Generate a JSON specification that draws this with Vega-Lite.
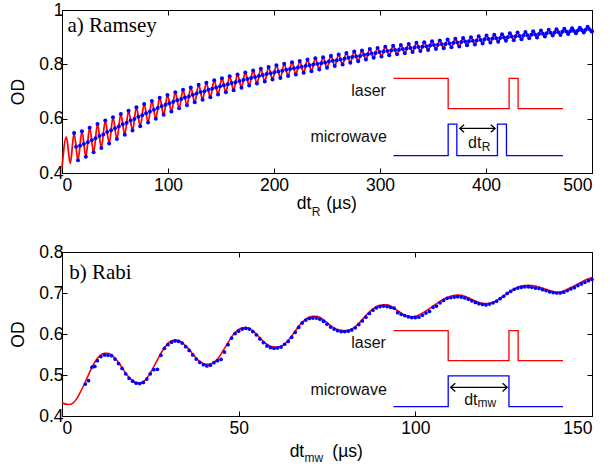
{
"$schema": "https://vega.github.io/schema/vega-lite/v6.json",
"autosize": {"type": "pad"},
"padding": {"left": 9, "top": 0, "right": 0, "bottom": 0},
"background": "white",
"spacing": 79,
"bounds": "flush",
"config": {
  "view": {"stroke": "black", "strokeWidth": 1},
  "axis": {"grid": false, "domainColor": "black", "domainWidth": 1, "tickColor": "black", "tickWidth": 1, "tickSize": -5, "labelFont": "Liberation Sans", "labelFontSize": 17.5, "labelColor": "black", "labelPadding": 4, "titleFont": "Liberation Sans", "titleFontSize": 17.5, "titleFontWeight": "normal", "titleColor": "black", "titlePadding": 11},
  "text": {"font": "Liberation Sans", "color": "#111"}
},
"datasets": {
"ram_ext": [{"t":0,"v":0.42},{"t":4.1,"v":0.533},{"t":7.8,"v":0.435},{"t":11.4,"v":0.547},{"t":15.1,"v":0.447},{"t":18.8,"v":0.554},{"t":22.5,"v":0.46},{"t":26.1,"v":0.567},{"t":29.8,"v":0.476},{"t":33.5,"v":0.58},{"t":37.1,"v":0.492},{"t":40.8,"v":0.593},{"t":44.5,"v":0.509},{"t":48.1,"v":0.605},{"t":51.8,"v":0.525},{"t":55.5,"v":0.617},{"t":59.2,"v":0.541},{"t":62.8,"v":0.629},{"t":66.5,"v":0.556},{"t":70.2,"v":0.642},{"t":73.8,"v":0.572},{"t":77.5,"v":0.654},{"t":81.2,"v":0.586},{"t":84.8,"v":0.665},{"t":88.5,"v":0.6},{"t":92.2,"v":0.677},{"t":95.9,"v":0.614},{"t":99.5,"v":0.687},{"t":103.2,"v":0.626},{"t":106.9,"v":0.697},{"t":110.5,"v":0.638},{"t":114.2,"v":0.706},{"t":117.9,"v":0.649},{"t":121.5,"v":0.715},{"t":125.2,"v":0.66},{"t":128.9,"v":0.725},{"t":132.6,"v":0.67},{"t":136.2,"v":0.732},{"t":139.9,"v":0.679},{"t":143.6,"v":0.741},{"t":147.2,"v":0.689},{"t":150.9,"v":0.749},{"t":154.6,"v":0.697},{"t":158.2,"v":0.756},{"t":161.9,"v":0.705},{"t":165.6,"v":0.763},{"t":169.3,"v":0.714},{"t":172.9,"v":0.77},{"t":176.6,"v":0.722},{"t":180.3,"v":0.777},{"t":183.9,"v":0.729},{"t":187.6,"v":0.784},{"t":191.3,"v":0.737},{"t":194.9,"v":0.79},{"t":198.6,"v":0.744},{"t":202.3,"v":0.797},{"t":206,"v":0.75},{"t":209.6,"v":0.802},{"t":213.3,"v":0.757},{"t":217,"v":0.808},{"t":220.6,"v":0.763},{"t":224.3,"v":0.812},{"t":228,"v":0.769},{"t":231.6,"v":0.818},{"t":235.3,"v":0.775},{"t":239,"v":0.822},{"t":242.7,"v":0.781},{"t":246.3,"v":0.826},{"t":250,"v":0.787},{"t":253.7,"v":0.832},{"t":257.3,"v":0.794},{"t":261,"v":0.836},{"t":264.7,"v":0.799},{"t":268.3,"v":0.842},{"t":272,"v":0.806},{"t":275.7,"v":0.847},{"t":279.4,"v":0.811},{"t":283,"v":0.851},{"t":286.7,"v":0.818},{"t":290.4,"v":0.856},{"t":294,"v":0.824},{"t":297.7,"v":0.86},{"t":301.4,"v":0.829},{"t":305,"v":0.865},{"t":308.7,"v":0.833},{"t":312.4,"v":0.868},{"t":316.1,"v":0.837},{"t":319.7,"v":0.871},{"t":323.4,"v":0.841},{"t":327.1,"v":0.875},{"t":330.7,"v":0.845},{"t":334.4,"v":0.879},{"t":338.1,"v":0.849},{"t":341.7,"v":0.881},{"t":345.4,"v":0.853},{"t":349.1,"v":0.885},{"t":352.8,"v":0.856},{"t":356.4,"v":0.888},{"t":360.1,"v":0.859},{"t":363.8,"v":0.891},{"t":367.4,"v":0.863},{"t":371.1,"v":0.894},{"t":374.8,"v":0.866},{"t":378.4,"v":0.897},{"t":382.1,"v":0.87},{"t":385.8,"v":0.9},{"t":389.5,"v":0.873},{"t":393.1,"v":0.903},{"t":396.8,"v":0.877},{"t":400.5,"v":0.906},{"t":404.1,"v":0.88},{"t":407.8,"v":0.909},{"t":411.5,"v":0.883},{"t":415.1,"v":0.911},{"t":418.8,"v":0.887},{"t":422.5,"v":0.914},{"t":426.2,"v":0.889},{"t":429.8,"v":0.917},{"t":433.5,"v":0.892},{"t":437.2,"v":0.919},{"t":440.8,"v":0.896},{"t":444.5,"v":0.922},{"t":448.2,"v":0.899},{"t":451.8,"v":0.925},{"t":455.5,"v":0.902},{"t":459.2,"v":0.927},{"t":462.9,"v":0.906},{"t":466.5,"v":0.929},{"t":470.2,"v":0.908},{"t":473.9,"v":0.931},{"t":477.5,"v":0.912},{"t":481.2,"v":0.933},{"t":484.9,"v":0.914},{"t":488.5,"v":0.935},{"t":492.2,"v":0.917},{"t":495.9,"v":0.938},{"t":499.6,"v":0.921},{"t":500,"v":0.922}],
"ram_mid": [{"t":13.3,"v":0.497},{"t":17,"v":0.5},{"t":20.6,"v":0.507},{"t":24.3,"v":0.513},{"t":28,"v":0.521},{"t":31.6,"v":0.528},{"t":35.3,"v":0.536},{"t":39,"v":0.542},{"t":42.6,"v":0.551},{"t":46.3,"v":0.557},{"t":50,"v":0.565},{"t":53.6,"v":0.571},{"t":57.3,"v":0.579},{"t":61,"v":0.585},{"t":64.7,"v":0.593},{"t":68.3,"v":0.599},{"t":72,"v":0.607},{"t":75.7,"v":0.613},{"t":79.3,"v":0.62},{"t":83,"v":0.626},{"t":86.7,"v":0.633},{"t":90.3,"v":0.639},{"t":94,"v":0.646},{"t":97.7,"v":0.651},{"t":101.3,"v":0.657},{"t":105,"v":0.662},{"t":108.7,"v":0.668},{"t":112.4,"v":0.672},{"t":116,"v":0.678},{"t":119.7,"v":0.682},{"t":123.4,"v":0.688},{"t":127,"v":0.693},{"t":130.7,"v":0.698},{"t":134.4,"v":0.701},{"t":138.1,"v":0.706},{"t":141.7,"v":0.71},{"t":145.4,"v":0.715},{"t":149.1,"v":0.719},{"t":152.7,"v":0.723},{"t":156.4,"v":0.727},{"t":160.1,"v":0.731},{"t":163.7,"v":0.734},{"t":167.4,"v":0.739},{"t":171.1,"v":0.742},{"t":174.8,"v":0.746},{"t":178.4,"v":0.75},{"t":182.1,"v":0.753},{"t":185.8,"v":0.757},{"t":189.4,"v":0.761},{"t":193.1,"v":0.764},{"t":196.8,"v":0.767},{"t":200.4,"v":0.771},{"t":204.1,"v":0.774},{"t":207.8,"v":0.776},{"t":211.5,"v":0.78},{"t":215.1,"v":0.783},{"t":218.8,"v":0.786},{"t":222.5,"v":0.788},{"t":226.1,"v":0.791},{"t":229.8,"v":0.794},{"t":233.5,"v":0.797},{"t":237.1,"v":0.799},{"t":240.8,"v":0.802},{"t":244.5,"v":0.804},{"t":248.2,"v":0.807},{"t":251.8,"v":0.81},{"t":255.5,"v":0.813},{"t":259.2,"v":0.815},{"t":262.8,"v":0.818},{"t":266.5,"v":0.821},{"t":270.2,"v":0.824},{"t":273.8,"v":0.827},{"t":277.5,"v":0.829},{"t":281.2,"v":0.831},{"t":284.9,"v":0.835},{"t":288.5,"v":0.837},{"t":292.2,"v":0.84},{"t":295.9,"v":0.842},{"t":299.5,"v":0.845},{"t":303.2,"v":0.847},{"t":306.9,"v":0.849},{"t":310.5,"v":0.851},{"t":314.2,"v":0.853},{"t":317.9,"v":0.854},{"t":321.6,"v":0.856},{"t":325.2,"v":0.858},{"t":328.9,"v":0.86},{"t":332.6,"v":0.862},{"t":336.2,"v":0.864},{"t":339.9,"v":0.865},{"t":343.6,"v":0.867},{"t":347.2,"v":0.869},{"t":350.9,"v":0.871},{"t":354.6,"v":0.872},{"t":358.3,"v":0.874},{"t":361.9,"v":0.875},{"t":365.6,"v":0.877},{"t":369.3,"v":0.879},{"t":372.9,"v":0.88},{"t":376.6,"v":0.882},{"t":380.3,"v":0.884},{"t":383.9,"v":0.885},{"t":387.6,"v":0.887},{"t":391.3,"v":0.888},{"t":395,"v":0.89},{"t":398.6,"v":0.892},{"t":402.3,"v":0.893},{"t":406,"v":0.895},{"t":409.6,"v":0.896},{"t":413.3,"v":0.897},{"t":417,"v":0.899},{"t":420.6,"v":0.9},{"t":424.3,"v":0.902},{"t":428,"v":0.903},{"t":431.7,"v":0.904},{"t":435.3,"v":0.906},{"t":439,"v":0.907},{"t":442.7,"v":0.909},{"t":446.3,"v":0.91},{"t":450,"v":0.912},{"t":453.7,"v":0.913},{"t":457.3,"v":0.914},{"t":461,"v":0.916},{"t":464.7,"v":0.917},{"t":468.3,"v":0.918},{"t":472,"v":0.92},{"t":475.7,"v":0.921},{"t":479.4,"v":0.922},{"t":483,"v":0.923},{"t":486.7,"v":0.925},{"t":490.4,"v":0.926},{"t":494,"v":0.927},{"t":497.7,"v":0.929}],
"rabi_red": [{"t":0,"v":0.433},{"t":1,"v":0.429},{"t":2,"v":0.428},{"t":3,"v":0.431},{"t":4,"v":0.44},{"t":5,"v":0.455},{"t":6,"v":0.472},{"t":7,"v":0.491},{"t":8,"v":0.51},{"t":9,"v":0.527},{"t":10,"v":0.54},{"t":11,"v":0.549},{"t":12,"v":0.553},{"t":13,"v":0.553},{"t":14,"v":0.549},{"t":15,"v":0.541},{"t":16,"v":0.531},{"t":17,"v":0.518},{"t":18,"v":0.505},{"t":19,"v":0.494},{"t":20,"v":0.486},{"t":21,"v":0.481},{"t":22,"v":0.48},{"t":23,"v":0.483},{"t":24,"v":0.492},{"t":25,"v":0.505},{"t":26,"v":0.521},{"t":27,"v":0.537},{"t":28,"v":0.553},{"t":29,"v":0.567},{"t":30,"v":0.577},{"t":31,"v":0.583},{"t":32,"v":0.585},{"t":33,"v":0.584},{"t":34,"v":0.579},{"t":35,"v":0.571},{"t":36,"v":0.562},{"t":37,"v":0.551},{"t":38,"v":0.541},{"t":39,"v":0.533},{"t":40,"v":0.528},{"t":41,"v":0.526},{"t":42,"v":0.527},{"t":43,"v":0.531},{"t":44,"v":0.539},{"t":45,"v":0.551},{"t":46,"v":0.565},{"t":47,"v":0.579},{"t":48,"v":0.593},{"t":49,"v":0.604},{"t":50,"v":0.611},{"t":51,"v":0.615},{"t":52,"v":0.616},{"t":53,"v":0.614},{"t":54,"v":0.608},{"t":55,"v":0.6},{"t":56,"v":0.591},{"t":57,"v":0.582},{"t":58,"v":0.575},{"t":59,"v":0.57},{"t":60,"v":0.568},{"t":61,"v":0.568},{"t":62,"v":0.57},{"t":63,"v":0.575},{"t":64,"v":0.584},{"t":65,"v":0.595},{"t":66,"v":0.607},{"t":67,"v":0.619},{"t":68,"v":0.629},{"t":69,"v":0.636},{"t":70,"v":0.641},{"t":71,"v":0.643},{"t":72,"v":0.643},{"t":73,"v":0.64},{"t":74,"v":0.635},{"t":75,"v":0.628},{"t":76,"v":0.621},{"t":77,"v":0.615},{"t":78,"v":0.611},{"t":79,"v":0.609},{"t":80,"v":0.608},{"t":81,"v":0.609},{"t":82,"v":0.612},{"t":83,"v":0.618},{"t":84,"v":0.626},{"t":85,"v":0.635},{"t":86,"v":0.645},{"t":87,"v":0.654},{"t":88,"v":0.661},{"t":89,"v":0.667},{"t":90,"v":0.67},{"t":91,"v":0.671},{"t":92,"v":0.671},{"t":93,"v":0.668},{"t":94,"v":0.663},{"t":95,"v":0.657},{"t":96,"v":0.651},{"t":97,"v":0.646},{"t":98,"v":0.643},{"t":99,"v":0.642},{"t":100,"v":0.643},{"t":102,"v":0.651},{"t":104,"v":0.662},{"t":106,"v":0.674},{"t":108,"v":0.685},{"t":110,"v":0.692},{"t":112,"v":0.695},{"t":114,"v":0.692},{"t":116,"v":0.684},{"t":118,"v":0.677},{"t":120,"v":0.674},{"t":122,"v":0.677},{"t":124,"v":0.687},{"t":126,"v":0.699},{"t":128,"v":0.71},{"t":130,"v":0.717},{"t":132,"v":0.719},{"t":134,"v":0.717},{"t":136,"v":0.712},{"t":138,"v":0.706},{"t":140,"v":0.702},{"t":142,"v":0.705},{"t":144,"v":0.713},{"t":146,"v":0.722},{"t":148,"v":0.731},{"t":150,"v":0.738}],
"rabi_blue": [{"t":6.6,"v":0.478},{"t":7.5,"v":0.486},{"t":8.5,"v":0.519},{"t":9.3,"v":0.521},{"t":10,"v":0.535},{"t":11,"v":0.545},{"t":12,"v":0.549},{"t":13,"v":0.548},{"t":14,"v":0.547},{"t":15,"v":0.539},{"t":16,"v":0.528},{"t":17,"v":0.516},{"t":18,"v":0.503},{"t":19,"v":0.492},{"t":20,"v":0.485},{"t":21,"v":0.48},{"t":22,"v":0.479},{"t":23,"v":0.482},{"t":24,"v":0.49},{"t":25,"v":0.503},{"t":26,"v":0.513},{"t":27,"v":0.514},{"t":28,"v":0.548},{"t":29,"v":0.565},{"t":30,"v":0.574},{"t":31,"v":0.58},{"t":32,"v":0.583},{"t":33,"v":0.582},{"t":34,"v":0.578},{"t":35,"v":0.569},{"t":36,"v":0.56},{"t":37,"v":0.549},{"t":38,"v":0.539},{"t":39,"v":0.531},{"t":40,"v":0.525},{"t":41,"v":0.522},{"t":42,"v":0.524},{"t":43,"v":0.53},{"t":44,"v":0.535},{"t":45,"v":0.538},{"t":46,"v":0.556},{"t":47,"v":0.574},{"t":48,"v":0.59},{"t":49,"v":0.601},{"t":50,"v":0.607},{"t":51,"v":0.612},{"t":52,"v":0.614},{"t":53,"v":0.612},{"t":54,"v":0.606},{"t":55,"v":0.598},{"t":56,"v":0.588},{"t":57,"v":0.579},{"t":58,"v":0.571},{"t":59,"v":0.567},{"t":60,"v":0.565},{"t":61,"v":0.566},{"t":62,"v":0.568},{"t":63,"v":0.575},{"t":64,"v":0.582},{"t":65,"v":0.592},{"t":66,"v":0.604},{"t":67,"v":0.616},{"t":68,"v":0.627},{"t":69,"v":0.634},{"t":70,"v":0.638},{"t":71,"v":0.639},{"t":72,"v":0.639},{"t":73,"v":0.636},{"t":74,"v":0.631},{"t":75,"v":0.624},{"t":76,"v":0.617},{"t":77,"v":0.612},{"t":78,"v":0.608},{"t":79,"v":0.606},{"t":80,"v":0.606},{"t":81,"v":0.607},{"t":82,"v":0.61},{"t":83,"v":0.615},{"t":84,"v":0.623},{"t":85,"v":0.632},{"t":86,"v":0.641},{"t":87,"v":0.65},{"t":88,"v":0.658},{"t":89,"v":0.664},{"t":90,"v":0.667},{"t":91,"v":0.668},{"t":92,"v":0.667},{"t":93,"v":0.665},{"t":94,"v":0.663},{"t":95,"v":0.652},{"t":96,"v":0.648},{"t":97,"v":0.645},{"t":98,"v":0.642},{"t":99,"v":0.64},{"t":100,"v":0.64},{"t":101,"v":0.641},{"t":102,"v":0.646},{"t":103,"v":0.651},{"t":104,"v":0.655},{"t":105,"v":0.665},{"t":106,"v":0.668},{"t":107,"v":0.676},{"t":108,"v":0.682},{"t":109,"v":0.687},{"t":110,"v":0.689},{"t":111,"v":0.69},{"t":112,"v":0.691},{"t":113,"v":0.69},{"t":114,"v":0.688},{"t":115,"v":0.685},{"t":116,"v":0.681},{"t":117,"v":0.677},{"t":118,"v":0.674},{"t":119,"v":0.672},{"t":120,"v":0.671},{"t":121,"v":0.673},{"t":122,"v":0.676},{"t":123,"v":0.68},{"t":124,"v":0.686},{"t":125,"v":0.692},{"t":126,"v":0.699},{"t":127,"v":0.704},{"t":128,"v":0.709},{"t":129,"v":0.712},{"t":130,"v":0.714},{"t":131,"v":0.715},{"t":132,"v":0.715},{"t":133,"v":0.714},{"t":134,"v":0.712},{"t":135,"v":0.711},{"t":136,"v":0.708},{"t":137,"v":0.706},{"t":138,"v":0.703},{"t":139,"v":0.701},{"t":140,"v":0.7},{"t":141,"v":0.7},{"t":142,"v":0.702},{"t":143,"v":0.706},{"t":144,"v":0.71},{"t":145,"v":0.713},{"t":146,"v":0.718},{"t":147,"v":0.722},{"t":148,"v":0.726},{"t":149,"v":0.73},{"t":150,"v":0.733}],
"ins_a": [{"g":"L","c":"laser","i":0,"t":312.7,"v":0.748},{"g":"L","c":"laser","i":1,"t":364.3,"v":0.748},{"g":"L","c":"laser","i":2,"t":364.3,"v":0.637},{"g":"L","c":"laser","i":3,"t":421.8,"v":0.637},{"g":"L","c":"laser","i":4,"t":421.8,"v":0.748},{"g":"L","c":"laser","i":5,"t":430.3,"v":0.748},{"g":"L","c":"laser","i":6,"t":430.3,"v":0.637},{"g":"L","c":"laser","i":7,"t":472.7,"v":0.637},
  {"g":"M","c":"mw","i":0,"t":312.7,"v":0.464},{"g":"M","c":"mw","i":1,"t":364.3,"v":0.464},{"g":"M","c":"mw","i":2,"t":364.3,"v":0.58},{"g":"M","c":"mw","i":3,"t":372.5,"v":0.58},{"g":"M","c":"mw","i":4,"t":372.5,"v":0.464},{"g":"M","c":"mw","i":5,"t":410.8,"v":0.464},{"g":"M","c":"mw","i":6,"t":410.8,"v":0.58},{"g":"M","c":"mw","i":7,"t":419.3,"v":0.58},{"g":"M","c":"mw","i":8,"t":419.3,"v":0.464},{"g":"M","c":"mw","i":9,"t":472.7,"v":0.464},
  {"g":"A0","c":"arrow","i":0,"t":375.3,"v":0.564},{"g":"A0","c":"arrow","i":1,"t":408.6,"v":0.564},
  {"g":"A1","c":"arrow","i":0,"t":379.3,"v":0.578},{"g":"A1","c":"arrow","i":1,"t":375.3,"v":0.564},{"g":"A1","c":"arrow","i":2,"t":379.3,"v":0.55},
  {"g":"A2","c":"arrow","i":0,"t":404.6,"v":0.578},{"g":"A2","c":"arrow","i":1,"t":408.6,"v":0.564},{"g":"A2","c":"arrow","i":2,"t":404.6,"v":0.55}],
"ins_b": [{"g":"L","c":"laser","i":0,"t":93.8,"v":0.608},{"g":"L","c":"laser","i":1,"t":109.3,"v":0.608},{"g":"L","c":"laser","i":2,"t":109.3,"v":0.535},{"g":"L","c":"laser","i":3,"t":126.5,"v":0.535},{"g":"L","c":"laser","i":4,"t":126.5,"v":0.608},{"g":"L","c":"laser","i":5,"t":129.1,"v":0.608},{"g":"L","c":"laser","i":6,"t":129.1,"v":0.535},{"g":"L","c":"laser","i":7,"t":141.8,"v":0.535},
  {"g":"M","c":"mw","i":0,"t":93.8,"v":0.423},{"g":"M","c":"mw","i":1,"t":109.3,"v":0.423},{"g":"M","c":"mw","i":2,"t":109.3,"v":0.498},{"g":"M","c":"mw","i":3,"t":126.5,"v":0.498},{"g":"M","c":"mw","i":4,"t":126.5,"v":0.423},{"g":"M","c":"mw","i":5,"t":141.8,"v":0.423},
  {"g":"A0","c":"arrow","i":0,"t":110,"v":0.47},{"g":"A0","c":"arrow","i":1,"t":126,"v":0.47},
  {"g":"A1","c":"arrow","i":0,"t":111.3,"v":0.48},{"g":"A1","c":"arrow","i":1,"t":110,"v":0.47},{"g":"A1","c":"arrow","i":2,"t":111.3,"v":0.46},
  {"g":"A2","c":"arrow","i":0,"t":124.7,"v":0.48},{"g":"A2","c":"arrow","i":1,"t":126,"v":0.47},{"g":"A2","c":"arrow","i":2,"t":124.7,"v":0.46}]
},
"vconcat": [
{
  "width": 530, "height": 163,
  "layer": [
    {"data": {"name": "ram_ext"}, "mark": {"type": "line", "color": "#ff0000", "strokeWidth": 1.8, "interpolate": "monotone"},
     "encoding": {
       "x": {"field": "t", "type": "quantitative", "scale": {"domain": [0, 500]}, "axis": {"orient": "bottom", "title": null, "values": [0,100,200,300,400,500], "labelPadding": 8}},
       "y": {"field": "v", "type": "quantitative", "scale": {"domain": [0.4, 1]}, "axis": {"orient": "left", "title": "OD", "values": [0.4,0.6,0.8,1], "format": "~g"}}}},
    {"data": {"name": "ram_ext"}, "transform": [{"filter": "datum.t >= 11"}], "mark": {"type": "point", "filled": true, "color": "#0000ff", "size": 16, "opacity": 1},
     "encoding": {
       "x": {"field": "t", "type": "quantitative", "scale": {"domain": [0, 500]}, "axis": {"orient": "top", "labels": false, "title": null, "values": [0,100,200,300,400,500]}},
       "y": {"field": "v", "type": "quantitative", "scale": {"domain": [0.4, 1]}, "axis": {"orient": "right", "labels": false, "title": null, "values": [0.4,0.6,0.8,1]}}}},
    {"data": {"name": "ram_mid"}, "mark": {"type": "point", "filled": true, "color": "#0000ff", "size": 16, "opacity": 1},
     "encoding": {
       "x": {"field": "t", "type": "quantitative", "scale": {"domain": [0, 500]}, "axis": null},
       "y": {"field": "v", "type": "quantitative", "scale": {"domain": [0.4, 1]}, "axis": null}}},
    {"data": {"name": "ins_a"}, "mark": {"type": "line", "strokeWidth": 1.3},
     "encoding": {
       "x": {"field": "t", "type": "quantitative", "scale": {"domain": [0, 500]}, "axis": null},
       "y": {"field": "v", "type": "quantitative", "scale": {"domain": [0.4, 1]}, "axis": null},
       "color": {"field": "c", "type": "nominal", "scale": {"domain": ["laser","mw","arrow"], "range": ["#ff0000","#0000ff","#000000"]}, "legend": null},
       "detail": {"field": "g"},
       "order": {"field": "i", "type": "quantitative"}}},
    {"data": {"values": [{"t":305.6,"v":0.702,"txt":"laser"},{"t":306.5,"v":0.531,"txt":"microwave"},{"t":395.7,"v":0.509,"txt":"dt"}]},
     "mark": {"type": "text", "align": "right", "baseline": "middle", "fontSize": 16},
     "encoding": {
       "x": {"field": "t", "type": "quantitative", "scale": {"domain": [0, 500]}, "axis": null},
       "y": {"field": "v", "type": "quantitative", "scale": {"domain": [0.4, 1]}, "axis": null},
       "text": {"field": "txt"}}},
    {"data": {"values": [{"t":395.9,"v":0.494,"txt":"R"},{"t":235.6,"v":0.255,"txt":"R"}]},
     "mark": {"type": "text", "align": "left", "baseline": "middle", "fontSize": 12},
     "encoding": {
       "x": {"field": "t", "type": "quantitative", "scale": {"domain": [0, 500]}, "axis": null},
       "y": {"field": "v", "type": "quantitative", "scale": {"domain": [0.4, 1]}, "axis": null},
       "text": {"field": "txt"}}},
    {"data": {"values": [{"t":235.2,"v":0.286,"txt":"dt"}]},
     "mark": {"type": "text", "align": "right", "baseline": "middle", "fontSize": 17.5, "color": "black"},
     "encoding": {
       "x": {"field": "t", "type": "quantitative", "scale": {"domain": [0, 500]}, "axis": null},
       "y": {"field": "v", "type": "quantitative", "scale": {"domain": [0.4, 1]}, "axis": null},
       "text": {"field": "txt"}}},
    {"data": {"values": [{"t":249.3,"v":0.286,"txt":"(µs)"}]},
     "mark": {"type": "text", "align": "left", "baseline": "middle", "fontSize": 17.5, "color": "black"},
     "encoding": {
       "x": {"field": "t", "type": "quantitative", "scale": {"domain": [0, 500]}, "axis": null},
       "y": {"field": "v", "type": "quantitative", "scale": {"domain": [0.4, 1]}, "axis": null},
       "text": {"field": "txt"}}},
    {"data": {"values": [{"t":5.2,"v":0.941,"txt":"a) Ramsey"}]},
     "mark": {"type": "text", "align": "left", "baseline": "middle", "fontSize": 21, "font": "Liberation Serif", "color": "black"},
     "encoding": {
       "x": {"field": "t", "type": "quantitative", "scale": {"domain": [0, 500]}, "axis": null},
       "y": {"field": "v", "type": "quantitative", "scale": {"domain": [0.4, 1]}, "axis": null},
       "text": {"field": "txt"}}}
  ],
  "resolve": {"axis": {"x": "independent", "y": "independent"}}
},
{
  "width": 530, "height": 164,
  "layer": [
    {"data": {"name": "rabi_red"}, "mark": {"type": "line", "color": "#ff0000", "strokeWidth": 1.6, "interpolate": "monotone"},
     "encoding": {
       "x": {"field": "t", "type": "quantitative", "scale": {"domain": [0, 150]}, "axis": {"orient": "bottom", "title": null, "values": [0,50,100,150], "labelPadding": 8}},
       "y": {"field": "v", "type": "quantitative", "scale": {"domain": [0.4, 0.8]}, "axis": {"orient": "left", "title": "OD", "values": [0.4,0.5,0.6,0.7,0.8], "format": "~g"}}}},
    {"data": {"name": "rabi_blue"}, "mark": {"type": "point", "filled": true, "color": "#0000ff", "size": 14, "opacity": 1},
     "encoding": {
       "x": {"field": "t", "type": "quantitative", "scale": {"domain": [0, 150]}, "axis": {"orient": "top", "labels": false, "title": null, "values": [0,50,100,150]}},
       "y": {"field": "v", "type": "quantitative", "scale": {"domain": [0.4, 0.8]}, "axis": {"orient": "right", "labels": false, "title": null, "values": [0.4,0.5,0.6,0.7,0.8]}}}},
    {"data": {"name": "ins_b"}, "mark": {"type": "line", "strokeWidth": 1.3},
     "encoding": {
       "x": {"field": "t", "type": "quantitative", "scale": {"domain": [0, 150]}, "axis": null},
       "y": {"field": "v", "type": "quantitative", "scale": {"domain": [0.4, 0.8]}, "axis": null},
       "color": {"field": "c", "type": "nominal", "scale": {"domain": ["laser","mw","arrow"], "range": ["#ff0000","#0000ff","#000000"]}, "legend": null},
       "detail": {"field": "g"},
       "order": {"field": "i", "type": "quantitative"}}},
    {"data": {"values": [{"t":91.66,"v":0.578,"txt":"laser"},{"t":91.94,"v":0.464,"txt":"microwave"},{"t":117.6,"v":0.44,"txt":"dt"}]},
     "mark": {"type": "text", "align": "right", "baseline": "middle", "fontSize": 16},
     "encoding": {
       "x": {"field": "t", "type": "quantitative", "scale": {"domain": [0, 150]}, "axis": null},
       "y": {"field": "v", "type": "quantitative", "scale": {"domain": [0.4, 0.8]}, "axis": null},
       "text": {"field": "txt"}}},
    {"data": {"values": [{"t":117.6,"v":0.432,"txt":"mw"},{"t":68.6,"v":0.298,"txt":"mw"}]},
     "mark": {"type": "text", "align": "left", "baseline": "middle", "fontSize": 12},
     "encoding": {
       "x": {"field": "t", "type": "quantitative", "scale": {"domain": [0, 150]}, "axis": null},
       "y": {"field": "v", "type": "quantitative", "scale": {"domain": [0.4, 0.8]}, "axis": null},
       "text": {"field": "txt"}}},
    {"data": {"values": [{"t":68.56,"v":0.312,"txt":"dt"}]},
     "mark": {"type": "text", "align": "right", "baseline": "middle", "fontSize": 17.5, "color": "black"},
     "encoding": {
       "x": {"field": "t", "type": "quantitative", "scale": {"domain": [0, 150]}, "axis": null},
       "y": {"field": "v", "type": "quantitative", "scale": {"domain": [0.4, 0.8]}, "axis": null},
       "text": {"field": "txt"}}},
    {"data": {"values": [{"t":76.5,"v":0.312,"txt":"(µs)"}]},
     "mark": {"type": "text", "align": "left", "baseline": "middle", "fontSize": 17.5, "color": "black"},
     "encoding": {
       "x": {"field": "t", "type": "quantitative", "scale": {"domain": [0, 150]}, "axis": null},
       "y": {"field": "v", "type": "quantitative", "scale": {"domain": [0.4, 0.8]}, "axis": null},
       "text": {"field": "txt"}}},
    {"data": {"values": [{"t":2.04,"v":0.75,"txt":"b) Rabi"}]},
     "mark": {"type": "text", "align": "left", "baseline": "middle", "fontSize": 21, "font": "Liberation Serif", "color": "black"},
     "encoding": {
       "x": {"field": "t", "type": "quantitative", "scale": {"domain": [0, 150]}, "axis": null},
       "y": {"field": "v", "type": "quantitative", "scale": {"domain": [0.4, 0.8]}, "axis": null},
       "text": {"field": "txt"}}}
  ],
  "resolve": {"axis": {"x": "independent", "y": "independent"}}
}
]
}
